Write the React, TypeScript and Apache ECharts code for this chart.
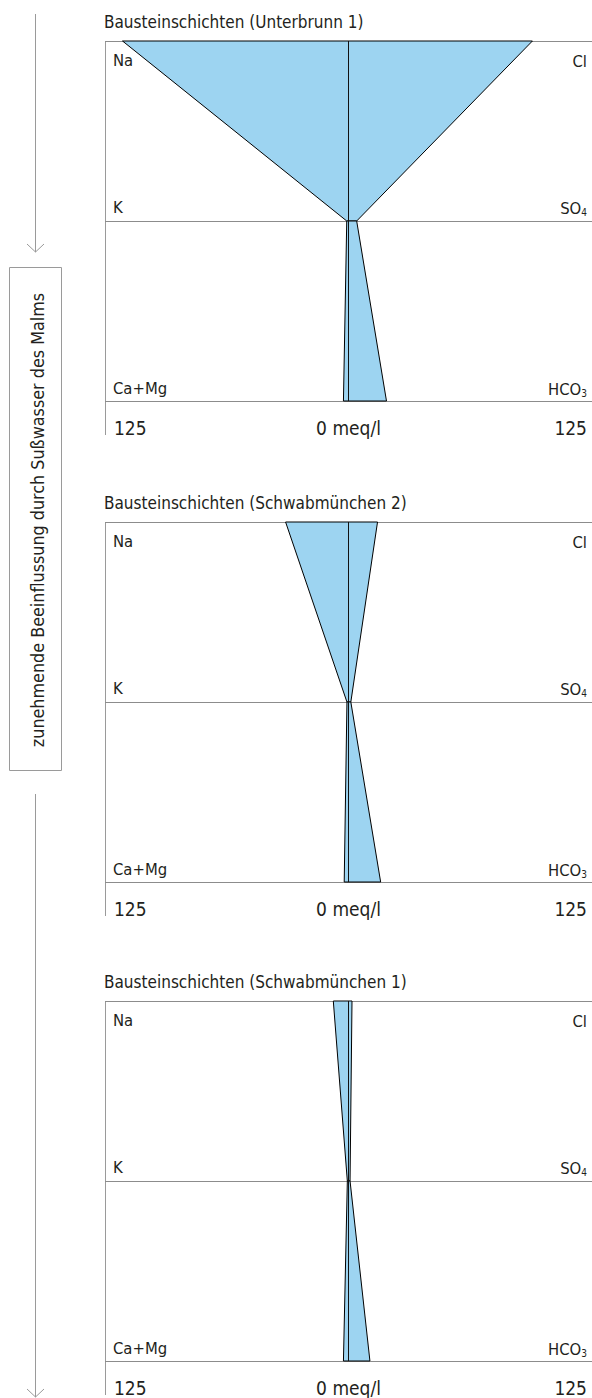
import React, { useEffect, useRef } from 'react';
import * as echarts from 'echarts';

// ---- data ----
const panelTitles = [
  'Bausteinschichten (Unterbrunn 1)',
  'Bausteinschichten (Schwabmünchen 2)',
  'Bausteinschichten (Schwabmünchen 1)',
];
const cationLabels = ['Na', 'K', 'Ca+Mg'];
const anionLabels = ['Cl', 'SO4', 'HCO3'];
// meq/l
const na = [116, 32.3, 7.8];
const k = [0.9, 0.8, 0.6];
const caMg = [2.6, 2.2, 2.6];
const cl = [94.4, 14.9, 1.8];
const so4 = [4.2, 1.2, 0.8];
const hco3 = [19.5, 16.5, 11.0];
const axisMin = -125;
const axisMax = 125;
const tickValues = [-125, 0, 125];
const sideNote = 'zunehmende Beeinflussung durch Sußwasser des Malms';

// ---- layout / style ----
const FONT = "'DejaVu Sans Condensed', 'Liberation Sans', sans-serif";
const TEXT = '#231f20';
const GRAY = '#9a9a9a';
const FILL = '#9dd4f1';
const GRID_LEFT = 105;
const GRID_W = 490;
const PANEL_H = 360;
const panelTops = [41, 522, 1001];
const TITLE_SIZE = 17;
const LABEL_SIZE = 16.5;
const TICK_SIZE = 19;

function subLabel(s: string) {
  const m = s.match(/^([A-Za-z]+?)(\d)$/);
  if (!m) return `{b|${s}}`;
  return `{b|${m[1]}}{s|${m[2]}}`;
}

const richSub = {
  b: { fontSize: LABEL_SIZE, fontFamily: FONT, fill: TEXT, verticalAlign: 'bottom', lineHeight: 20 },
  s: { fontSize: 10, fontFamily: FONT, fill: TEXT, verticalAlign: 'bottom', lineHeight: 10 },
};

export default function App() {
  const ref = useRef<HTMLDivElement>(null);
  useEffect(() => {
    if (!ref.current) return;
    const chart = echarts.init(ref.current, undefined, { renderer: 'svg' });

    const grids = panelTops.map((t) => ({ left: GRID_LEFT, top: t, width: GRID_W, height: PANEL_H }));
    const xAxes = panelTops.map((_, i) => ({
      gridIndex: i,
      type: 'value',
      min: axisMin,
      max: axisMax,
      axisLine: { show: false },
      splitLine: { show: false },
      axisTick: { show: true, customValues: [0], length: 11, lineStyle: { color: GRAY } },
      axisLabel: {
        customValues: tickValues,
        margin: 17,
        fontSize: TICK_SIZE,
        color: TEXT,
        fontFamily: FONT,
        alignMinLabel: 'left',
        alignMaxLabel: 'right',
        formatter: (v: number) => (v === 0 ? '{c|0 meq/l}' : v < 0 ? '{l|125}' : '{r|125}'),
        rich: {
          c: { fontSize: TICK_SIZE, fontFamily: FONT, color: TEXT },
          l: { fontSize: TICK_SIZE, fontFamily: FONT, color: TEXT, padding: [0, 0, 0, 9] },
          r: { fontSize: TICK_SIZE, fontFamily: FONT, color: TEXT, padding: [0, 5, 0, 0] },
        },
      },
    }));
    const yAxes = panelTops.map((_, i) => ({
      gridIndex: i,
      type: 'value',
      min: 0,
      max: 2,
      interval: 1,
      inverse: true,
      axisLine: { show: false },
      axisTick: { show: false },
      axisLabel: { show: false },
      splitLine: { show: true, lineStyle: { color: '#8c8c8c', width: 1 } },
    }));

    const series = panelTops.map((_, i) => ({
      type: 'custom',
      xAxisIndex: i,
      yAxisIndex: i,
      encode: { x: 0, y: 4 },
      data: [
        [na[i], cl[i], k[i], so4[i], 0],
        [k[i], so4[i], caMg[i], hco3[i], 1],
      ],
      renderItem: (params: any, api: any) => {
        const lt = api.value(0);
        const rt = api.value(1);
        const lb = api.value(2);
        const rb = api.value(3);
        const r = api.value(4);
        const pts = [
          api.coord([-lt, r]),
          api.coord([rt, r]),
          api.coord([rb, r + 1]),
          api.coord([-lb, r + 1]),
        ];
        return {
          type: 'polygon',
          shape: { points: pts },
          style: { fill: FILL, stroke: '#000', lineWidth: 1 },
        };
      },
      markLine: {
        silent: true,
        symbol: ['none', 'none'],
        label: { show: false },
        lineStyle: { color: '#111', width: 1, type: 'solid' },
        data: [{ xAxis: 0 }],
      },
    }));

    const graphic: any[] = [];
    panelTops.forEach((t, i) => {
      const rows = [t, t + PANEL_H / 2, t + PANEL_H];
      graphic.push({
        type: 'text',
        x: 104,
        y: t - 19,
        style: { text: panelTitles[i], fontSize: TITLE_SIZE, fontFamily: FONT, fill: TEXT, align: 'left', verticalAlign: 'middle' },
      });
      graphic.push({
        type: 'line',
        shape: { x1: GRID_LEFT + 0.5, y1: t, x2: GRID_LEFT + 0.5, y2: t + PANEL_H + 34 },
        style: { stroke: GRAY, lineWidth: 1 },
      });
      const ys = [rows[0] + 19, rows[1] - 14, rows[2] - 13];
      cationLabels.forEach((lab, j) => {
        graphic.push({
          type: 'text',
          x: 113,
          y: ys[j],
          style: { text: lab, fontSize: LABEL_SIZE, fontFamily: FONT, fill: TEXT, align: 'left', verticalAlign: 'middle' },
        });
      });
      anionLabels.forEach((lab, j) => {
        graphic.push({
          type: 'text',
          x: 587,
          y: ys[j],
          style: {
            text: subLabel(lab),
            rich: richSub,
            fontSize: LABEL_SIZE,
            fontFamily: FONT,
            fill: TEXT,
            align: 'right',
            verticalAlign: 'middle',
          },
        });
      });
    });

    // side arrows and box
    const ax = 35.5;
    graphic.push(
      { type: 'line', shape: { x1: ax, y1: 14, x2: ax, y2: 252 }, style: { stroke: GRAY, lineWidth: 1 } },
      { type: 'polyline', shape: { points: [[27, 244], [ax, 252], [44, 244]] }, style: { stroke: GRAY, lineWidth: 1, fill: null } },
      { type: 'rect', shape: { x: 9.5, y: 267.5, width: 52, height: 503 }, style: { stroke: GRAY, lineWidth: 1, fill: '#fff' } },
      {
        type: 'text',
        x: 37,
        y: 520,
        rotation: Math.PI / 2,
        style: { text: sideNote, fontSize: 17.8, fontFamily: FONT, fill: TEXT, align: 'center', verticalAlign: 'middle' },
      },
      { type: 'line', shape: { x1: ax, y1: 794, x2: ax, y2: 1397 }, style: { stroke: GRAY, lineWidth: 1 } },
      { type: 'polyline', shape: { points: [[27, 1389], [ax, 1397], [44, 1389]] }, style: { stroke: GRAY, lineWidth: 1, fill: null } }
    );

    chart.setOption({
      animation: false,
      backgroundColor: '#fff',
      grid: grids,
      xAxis: xAxes,
      yAxis: yAxes,
      series,
      graphic,
    });
    return () => chart.dispose();
  }, []);
  return <div ref={ref} style={{ position: 'absolute', left: 0, top: 0, width: 592, height: 1398 }} />;
}
